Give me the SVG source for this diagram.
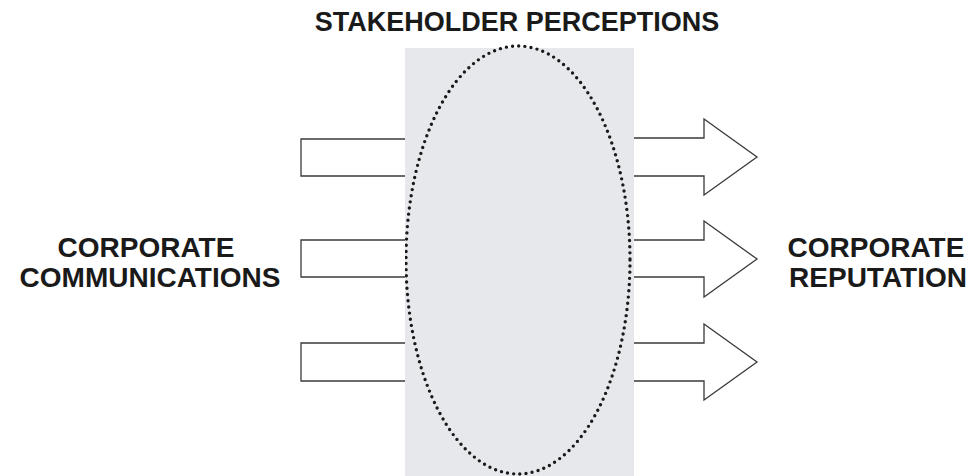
<svg xmlns="http://www.w3.org/2000/svg" width="979" height="476" viewBox="0 0 979 476">
  <style>
    .lbl { font-family: "Liberation Sans", Arial, sans-serif; font-weight: bold; font-size: 28px; fill: #1a1a1a; text-anchor: middle; }
    .title { font-size: 27px; }
    .shape { fill: #ffffff; stroke: #3a3a3a; stroke-width: 1.3; }
  </style>

  <!-- perception band with dotted ellipse -->
  <g id="perceptions">
    <rect x="405" y="48" width="229" height="428" fill="#e7e8ec"/>
    <ellipse cx="518" cy="260" rx="112" ry="214" fill="none" stroke="#1a1a1a" stroke-width="3.4" stroke-linecap="round" stroke-dasharray="0 6.2"/>
    <text class="lbl title" x="517" y="31">STAKEHOLDER PERCEPTIONS</text>
  </g>

  <!-- inputs -->
  <g id="communications">
    <text class="lbl" x="146" y="257">CORPORATE</text>
    <text class="lbl" x="150" y="287">COMMUNICATIONS</text>
  </g>

  <g id="reputation">
    <text class="lbl" x="876" y="257">CORPORATE</text>
    <text class="lbl" x="878" y="287">REPUTATION</text>
  </g>

  <g id="connectors">
    <!-- incoming bars -->
    <path class="shape" d="M405,139 H301 V176 H405"/>
    <path class="shape" d="M405,240 H301 V277 H405"/>
    <path class="shape" d="M405,343 H301 V381 H405"/>
    <!-- outgoing arrows -->
    <path class="shape" d="M634,138 H704 V119 L757,157 L704,195 V176 H634"/>
    <path class="shape" d="M634,240 H704 V221 L757,259 L704,297 V277 H634"/>
    <path class="shape" d="M634,343 H704 V324 L757,362 L704,400 V381 H634"/>
  </g>
</svg>
